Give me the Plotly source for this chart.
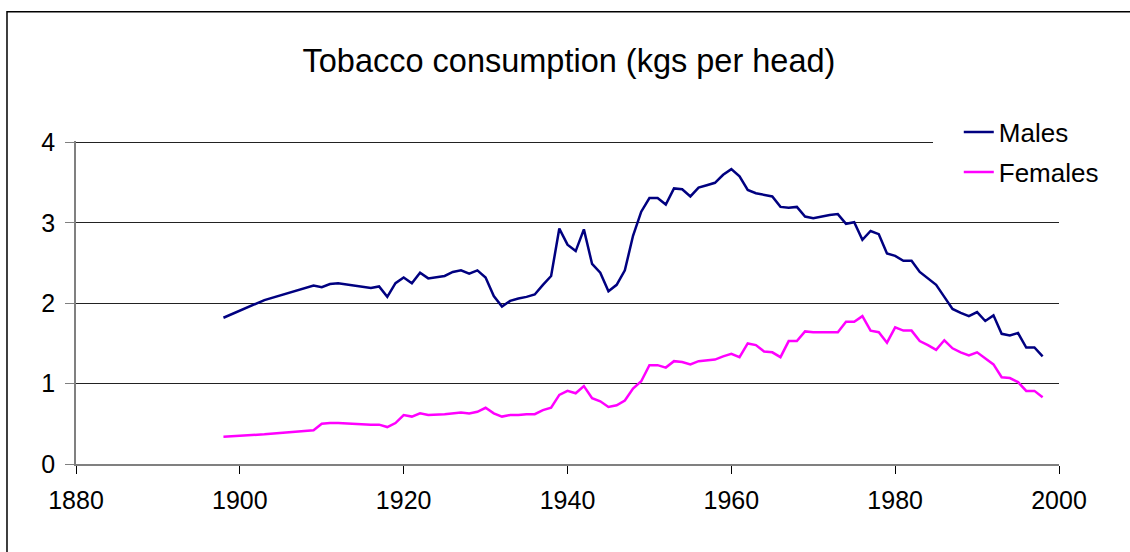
import plotly.graph_objects as go

# values (kgs per head)
years = [1898, 1903, 1909, 1910, 1911, 1912, 1916, 1917, 1918, 1919,
         1920, 1921, 1922, 1923, 1925, 1926, 1927, 1928, 1929,
         1930, 1931, 1932, 1933, 1934, 1935, 1936, 1937, 1938, 1939,
         1940, 1941, 1942, 1943, 1944, 1945, 1946, 1947, 1948, 1949,
         1950, 1951, 1952, 1953, 1954, 1955, 1956, 1957, 1958, 1959,
         1960, 1961, 1962, 1963, 1964, 1965, 1966, 1967, 1968, 1969,
         1970, 1971, 1972, 1973, 1974, 1975, 1976, 1977, 1978, 1979,
         1980, 1981, 1982, 1983, 1984, 1985, 1986, 1987, 1988, 1989,
         1990, 1991, 1992, 1993, 1994, 1995, 1996, 1997, 1998]

males = [1.82, 2.04, 2.22, 2.20, 2.24, 2.25, 2.19, 2.21, 2.08, 2.25,
         2.32, 2.25, 2.38, 2.31, 2.34, 2.39, 2.41, 2.37, 2.41,
         2.32, 2.09, 1.96, 2.03, 2.06, 2.08, 2.11, 2.23, 2.34, 2.93,
         2.73, 2.65, 2.92, 2.49, 2.38, 2.15, 2.23, 2.41, 2.84, 3.14,
         3.31, 3.31, 3.23, 3.43, 3.42, 3.33, 3.44, 3.47, 3.50, 3.60,
         3.67, 3.58, 3.41, 3.37, 3.35, 3.33, 3.20, 3.19, 3.20, 3.08,
         3.06, 3.08, 3.10, 3.11, 2.99, 3.01, 2.79, 2.90, 2.86, 2.62,
         2.59, 2.53, 2.53, 2.39, 2.31, 2.23, 2.08, 1.93, 1.88, 1.84,
         1.89, 1.78, 1.85, 1.62, 1.60, 1.63, 1.45, 1.45, 1.34]

females = [0.34, 0.37, 0.42, 0.50, 0.51, 0.51, 0.49, 0.49, 0.46, 0.51,
           0.61, 0.59, 0.63, 0.61, 0.62, 0.63, 0.64, 0.63, 0.65,
           0.70, 0.63, 0.59, 0.61, 0.61, 0.62, 0.62, 0.67, 0.70, 0.86,
           0.91, 0.88, 0.97, 0.82, 0.78, 0.71, 0.73, 0.79, 0.94, 1.03,
           1.23, 1.23, 1.20, 1.28, 1.27, 1.24, 1.28, 1.29, 1.30, 1.34,
           1.37, 1.33, 1.50, 1.48, 1.40, 1.39, 1.33, 1.53, 1.53, 1.65,
           1.64, 1.64, 1.64, 1.64, 1.77, 1.77, 1.84, 1.66, 1.64, 1.51,
           1.70, 1.66, 1.66, 1.53, 1.48, 1.42, 1.54, 1.44, 1.39, 1.35,
           1.39, 1.31, 1.24, 1.08, 1.07, 1.02, 0.91, 0.91, 0.83]

FONT = "Arial, Liberation Sans, sans-serif"

fig = go.Figure()

fig.add_trace(go.Scatter(
    x=years, y=males, name="Males", mode="lines",
    line=dict(color="#000080", width=2.5),
    legendgroup="m",
))
fig.add_trace(go.Scatter(
    x=years, y=females, name="Females", mode="lines",
    line=dict(color="#FF00FF", width=2.5),
    legendgroup="f",
))

fig.update_xaxes(
    range=[1880, 2000], tick0=1880, dtick=20,
    showgrid=False, zeroline=False,
    showline=True, linecolor="#808080", linewidth=1.5,
    ticks="outside", ticklen=8, tickcolor="#000000", tickwidth=1,
    ticklabelstandoff=5,
    tickfont=dict(family=FONT, size=25, color="#000000"),
)
# a touch of headroom so the gridline at 4 is not clipped
fig.update_yaxes(
    range=[0, 4.02], tickvals=[0, 1, 2, 3, 4],
    showgrid=True, gridcolor="#222222", gridwidth=1,
    zeroline=False,
    showline=True, linecolor="#808080", linewidth=1.5,
    ticks="outside", ticklen=9, tickcolor="#808080", tickwidth=1,
    ticklabelstandoff=5,
    tickfont=dict(family=FONT, size=25, color="#000000"),
)

# outer chart frame (only left/top edges fall inside the picture)
fig.add_shape(type="rect", xref="paper", yref="paper",
              x0=-0.0702, x1=1.3, y0=-0.6, y1=1.4,
              line=dict(color="#000000", width=1.5), layer="below")

fig.update_layout(
    width=1130, height=552,
    margin=dict(l=76, r=71, t=141, b=88),
    plot_bgcolor="white", paper_bgcolor="white",
    font=dict(family=FONT, color="#000000"),
    title=dict(
        text="Tobacco consumption (kgs per head)",
        font=dict(family=FONT, size=32.5, color="#000000"),
        x=0.5035, xanchor="center",
        y=1 - 61 / 552, yanchor="middle", yref="container",
    ),
    legend=dict(
        x=0.8716, xanchor="left", y=1.1, yanchor="top",
        bgcolor="white", borderwidth=0, indentation=26,
        font=dict(family=FONT, size=26, color="#000000"),
        traceorder="grouped", tracegroupgap=3,
    ),
    showlegend=True,
)

fig.write_html("out.html", config={"displayModeBar": False},
               post_script="document.body.style.margin='0';")
